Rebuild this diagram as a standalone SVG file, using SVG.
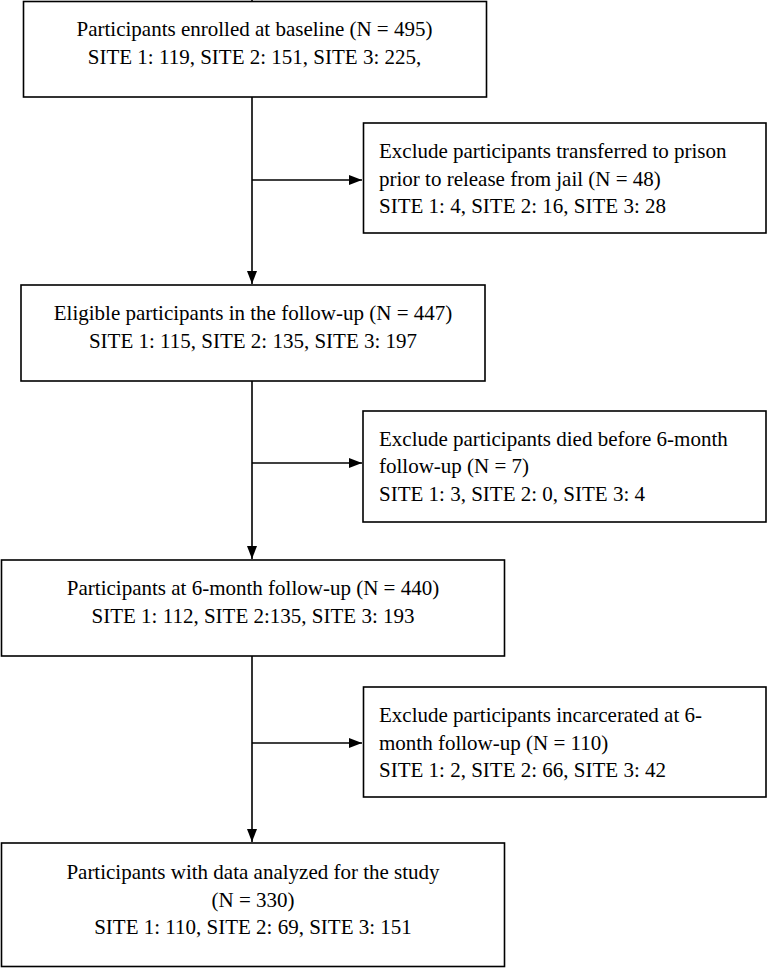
<svg xmlns="http://www.w3.org/2000/svg" width="768" height="968" viewBox="0 0 768 968">
<style>
.box{fill:#fff;stroke:#000;stroke-width:1.6}
.t{font-family:"Liberation Serif","Times New Roman",serif;font-size:21px;fill:#000}
.c{text-anchor:middle}
.ln{stroke:#000;stroke-width:1.6;fill:none}
</style>
<defs>
<marker id="ah" markerUnits="userSpaceOnUse" markerWidth="14" markerHeight="12" refX="13" refY="6" orient="auto">
<path d="M0,1 L13,6 L0,11 Z" fill="#000"/>
</marker>
</defs>
<rect width="768" height="968" fill="#fff"/>
<g id="connectors">
<line class="ln" x1="252" y1="0" x2="252" y2="284" marker-end="url(#ah)"/>
<line class="ln" x1="252" y1="180" x2="362" y2="180" marker-end="url(#ah)"/>
<line class="ln" x1="252" y1="381" x2="252" y2="559" marker-end="url(#ah)"/>
<line class="ln" x1="252" y1="463" x2="362" y2="463" marker-end="url(#ah)"/>
<line class="ln" x1="252" y1="656" x2="252" y2="842" marker-end="url(#ah)"/>
<line class="ln" x1="252" y1="743" x2="362" y2="743" marker-end="url(#ah)"/>
</g>
<g id="n1">
<rect class="box" x="23.5" y="1.5" width="463" height="95.5"/>
<text class="t c" x="254.5" y="36">Participants enrolled at baseline (N = 495)</text>
<text class="t c" x="254.5" y="63.5">SITE 1: 119, SITE 2: 151, SITE 3: 225,</text>
</g>
<g id="n2">
<rect class="box" x="363.5" y="123" width="402.5" height="110"/>
<text class="t" x="379" y="158">Exclude participants transferred to prison</text>
<text class="t" x="379" y="185.5">prior to release from jail (N = 48)</text>
<text class="t" x="379" y="213">SITE 1: 4, SITE 2: 16, SITE 3: 28</text>
</g>
<g id="n3">
<rect class="box" x="21" y="285" width="464" height="96"/>
<text class="t c" x="253" y="320">Eligible participants in the follow-up (N = 447)</text>
<text class="t c" x="253" y="347.5">SITE 1: 115, SITE 2: 135, SITE 3: 197</text>
</g>
<g id="n4">
<rect class="box" x="363" y="411" width="403" height="111"/>
<text class="t" x="379" y="445.5">Exclude participants died before 6-month</text>
<text class="t" x="379" y="473">follow-up (N = 7)</text>
<text class="t" x="379" y="500.5">SITE 1: 3, SITE 2: 0, SITE 3: 4</text>
</g>
<g id="n5">
<rect class="box" x="1.5" y="560" width="503" height="96"/>
<text class="t c" x="253" y="595">Participants at 6-month follow-up (N = 440)</text>
<text class="t c" x="253" y="622.5">SITE 1: 112, SITE 2:135, SITE 3: 193</text>
</g>
<g id="n6">
<rect class="box" x="363.5" y="687" width="402.5" height="110"/>
<text class="t" x="379" y="722">Exclude participants incarcerated at 6-</text>
<text class="t" x="379" y="749.5">month follow-up (N = 110)</text>
<text class="t" x="379" y="777">SITE 1: 2, SITE 2: 66, SITE 3: 42</text>
</g>
<g id="n7">
<rect class="box" x="1.5" y="843" width="503" height="123.5"/>
<text class="t c" x="253" y="879">Participants with data analyzed for the study</text>
<text class="t c" x="253" y="906.5">(N = 330)</text>
<text class="t c" x="253" y="934">SITE 1: 110, SITE 2: 69, SITE 3: 151</text>
</g>
</svg>
